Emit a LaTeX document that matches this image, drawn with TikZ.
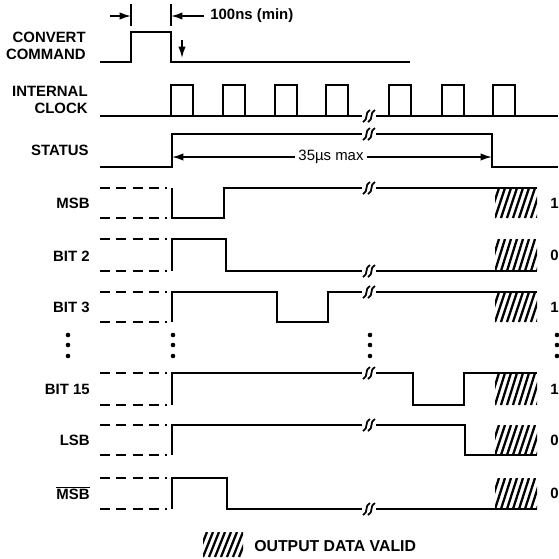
\documentclass[tikz,border=0pt]{standalone}
\usepackage{fontspec}
\setmainfont{Liberation Sans}
\usetikzlibrary{arrows.meta}

% break mark on a trace
\newcommand{\brk}[2]{%
  \fill[white] (#1-7,#2-3) rectangle (#1+7,#2+3);
  \draw[line width=1pt] (#1-6,#2+6) .. controls (#1,#2+3) and (#1-5,#2-3) .. (#1+1,#2-6);
  \draw[line width=1pt] (#1-1,#2+6) .. controls (#1+5,#2+3) and (#1,#2-3) .. (#1+6,#2-6);
}
% hatched "data valid" area
\newcommand{\hatch}[4]{%
  \begin{scope}
    \clip (#1,#2) rectangle (#3,#4);
    \foreach \k in {-12,-6,...,48}
      \draw[line width=1.3pt] (#1+\k,#4) -- (#1+\k+10,#2);
  \end{scope}}

\begin{document}
\begin{tikzpicture}[x=0.02cm, y=-0.02cm,
  signal/.style={line width=0.95pt, line join=miter},
  level/.style={line width=0.95pt, dash pattern=on 5.7pt off 3.6pt},
  lbl/.style={anchor=east, align=right, inner sep=0pt, font=\bfseries\fontsize{8.5}{9.4}\selectfont},
  val/.style={anchor=west, inner sep=0pt, font=\bfseries\fontsize{8.5}{10}\selectfont},
  arr/.style={line width=0.95pt, -{Latex[length=2.3mm, width=1.5mm]}}
]
  \useasboundingbox (0,0) rectangle (559,559);

  % labels
  \node[lbl] (convert) at (86,46) {CONVERT\\COMMAND};
  \node[lbl] (clock) at (88,100) {INTERNAL\\CLOCK};
  \node[lbl] (status) at (89,150) {STATUS};
  \node[lbl] (msb) at (90,203) {MSB};
  \node[lbl] (bit2) at (90,256) {BIT 2};
  \node[lbl] (bit3) at (90,307) {BIT 3};
  \node[lbl] (bit15) at (90,389) {BIT 15};
  \node[lbl] (lsb) at (90,440) {LSB};
  \node[lbl] (msbn) at (90,493) {$\overline{\hbox{MSB}}$};

  % 100ns marker
  \coordinate (ta) at (131,4);
  \coordinate (tb) at (171,4);
  \draw[signal] (ta) -- ++(0,22);
  \draw[signal] (tb) -- ++(0,22);
  \coordinate (pa) at (110,16);
  \coordinate (pb) at (131,16);
  \draw[arr] (pa) -- (pb);
  \node[val] (tmin) at (210,16) {100ns (min)};
  \coordinate (pd) at (204,16);
  \coordinate (pc) at (171,16);
  \draw[arr] (pd) -- (pc);
  \coordinate (da) at (182,40);
  \coordinate (db) at (182,58);
  \draw[arr] (da) -- (db);

  % convert command
  \draw[signal] (100,62) -- (131,62) -- (131,32) -- (171,32) -- (171,62) -- (410,62);

  % internal clock
  \draw[signal] (100,116) -- (558,116);
  \foreach \t in {171,223,275,326,389,442,493}
    \draw[signal] (\t,116) -- (\t,85) -- (\t+22,85) -- (\t+22,116);
  \brk{369}{116}

  % status
  \draw[signal] (100,167) -- (172,167) -- (172,134) -- (492,134) -- (492,167) -- (558,167);
  \brk{369}{134}
  \node[fill=white, inner sep=1.5pt, font=\fontsize{8.5}{10}\selectfont] (tmax) at (331,157) {35µs max};
  \coordinate (sa) at (172,157);
  \coordinate (sb) at (492,157);
  \draw[arr] (tmax) -- (sa);
  \draw[arr] (tmax) -- (sb);

  % undefined levels before conversion
  \foreach \ya/\yb in {188/218, 239/271, 292/322, 373/405, 425/455, 478/509} {
    \draw[level] (100,\ya) -- (167,\ya);
    \draw[level] (100,\yb) -- (167,\yb);
  }

  % data bits
  \hatch{495}{188}{537}{218}
  \hatch{495}{239}{537}{271}
  \hatch{495}{292}{537}{322}
  \hatch{495}{373}{537}{405}
  \hatch{495}{425}{537}{455}
  \hatch{495}{478}{537}{509}

  \draw[signal] (172,188) -- (172,218) -- (224,218) -- (224,188) -- (537,188);
  \brk{369}{188}
  \draw[signal] (172,271) -- (172,239) -- (226,239) -- (226,271) -- (537,271);
  \brk{369}{271}
  \draw[signal] (172,322) -- (172,292) -- (277,292) -- (277,322) -- (328,322) -- (328,292) -- (537,292);
  \brk{369}{292}
  \draw[signal] (172,405) -- (172,373) -- (413,373) -- (413,405) -- (464,405) -- (464,373) -- (537,373);
  \brk{369}{373}
  \draw[signal] (172,455) -- (172,425) -- (465,425) -- (465,455) -- (537,455);
  \brk{369}{425}
  \draw[signal] (172,509) -- (172,478) -- (227,478) -- (227,509) -- (537,509);
  \brk{369}{509}

  % output values
  \node[val] (v1) at (550,203) {1};
  \node[val] (v2) at (550,255) {0};
  \node[val] (v3) at (550,307) {1};
  \node[val] (v15) at (550,389) {1};
  \node[val] (v16) at (550,440) {0};
  \node[val] (v17) at (550,493) {0};

  % omitted bits
  \foreach \x in {68,173,370,557}
    \foreach \y in {335,345,356}
      \fill (\x,\y) circle (2.3);

  % legend
  \hatch{203}{532}{243}{557}
  \node[val, font=\bfseries\fontsize{9}{10}\selectfont] (legend) at (254,546) {OUTPUT DATA VALID};
\end{tikzpicture}
\end{document}
